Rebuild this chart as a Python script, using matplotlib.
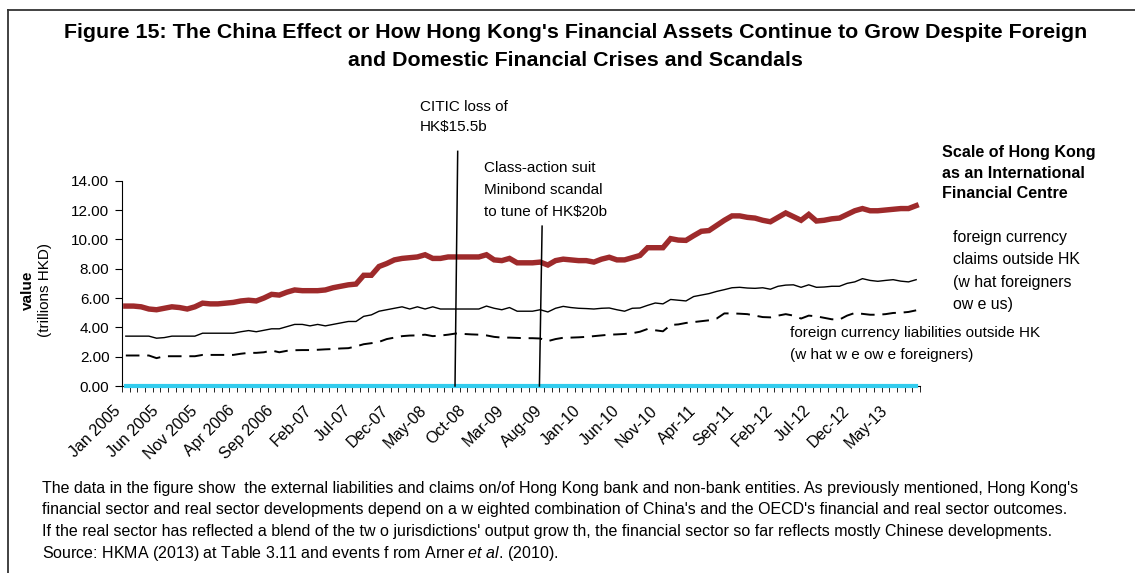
import numpy as np
import matplotlib
matplotlib.use("Agg")
from matplotlib import pyplot as plt
from matplotlib import transforms
from matplotlib.lines import Line2D

plt.rcParams['font.family'] = ['Liberation Sans', 'DejaVu Sans']
plt.rcParams['mathtext.fontset'] = 'custom'
plt.rcParams['mathtext.rm'] = 'Liberation Sans'
plt.rcParams['mathtext.it'] = 'Liberation Sans:italic'

# monthly, Jan 2005 .. Aug 2013 (trillions HKD)
tick_labels = ['Jan 2005', 'Jun 2005', 'Nov 2005', 'Apr 2006', 'Sep 2006', 'Feb-07',
               'Jul-07', 'Dec-07', 'May-08', 'Oct-08', 'Mar-09', 'Aug-09', 'Jan-10',
               'Jun-10', 'Nov-10', 'Apr-11', 'Sep-11', 'Feb-12', 'Jul-12', 'Dec-12',
               'May-13']
label_step = 5

total_assets = [5.45, 5.45, 5.4, 5.25, 5.2, 5.3, 5.4, 5.35, 5.25, 5.4,
                5.65, 5.6, 5.6, 5.65, 5.7, 5.8, 5.85, 5.8, 6.0, 6.25,
                6.2, 6.4, 6.55, 6.5, 6.5, 6.5, 6.55, 6.7, 6.8, 6.9,
                6.95, 7.55, 7.55, 8.15, 8.35, 8.6, 8.7, 8.75, 8.8, 8.95,
                8.7, 8.7, 8.8, 8.8, 8.8, 8.8, 8.8, 8.95, 8.6, 8.55,
                8.7, 8.4, 8.4, 8.4, 8.45, 8.25, 8.55, 8.65, 8.6, 8.55,
                8.55, 8.45, 8.65, 8.78, 8.6, 8.6, 8.75, 8.9, 9.43, 9.43,
                9.43, 10.05, 9.95, 9.93, 10.25, 10.55, 10.6, 10.95, 11.3, 11.6,
                11.6, 11.5, 11.45, 11.3, 11.2, 11.5, 11.8, 11.55, 11.3, 11.7,
                11.25, 11.3, 11.4, 11.45, 11.7, 11.95, 12.1, 11.95, 11.95, 12.0,
                12.05, 12.1, 12.1, 12.3]

claims = [3.4, 3.4, 3.4, 3.4, 3.26, 3.3, 3.4, 3.4, 3.4, 3.4,
          3.6, 3.6, 3.6, 3.6, 3.6, 3.7, 3.78, 3.7, 3.8, 3.9,
          3.9, 4.05, 4.2, 4.2, 4.1, 4.2, 4.1, 4.2, 4.3, 4.4,
          4.4, 4.75, 4.85, 5.1, 5.2, 5.3, 5.4, 5.25, 5.4, 5.25,
          5.4, 5.25, 5.25, 5.25, 5.25, 5.25, 5.25, 5.45, 5.3, 5.2,
          5.35, 5.1, 5.1, 5.1, 5.2, 5.05, 5.3, 5.43, 5.35, 5.3,
          5.28, 5.25, 5.3, 5.32, 5.2, 5.1, 5.3, 5.32, 5.5, 5.66,
          5.6, 5.9, 5.85, 5.8, 6.1, 6.2, 6.3, 6.45, 6.57, 6.7,
          6.73, 6.68, 6.66, 6.7, 6.6, 6.8, 6.88, 6.9, 6.73, 6.9,
          6.73, 6.75, 6.8, 6.8, 7.0, 7.1, 7.32, 7.2, 7.14, 7.2,
          7.25, 7.15, 7.1, 7.25]

liabilities = [2.08, 2.08, 2.08, 2.08, 1.9, 2.03, 2.03, 2.03, 2.03, 2.03,
               2.12, 2.12, 2.12, 2.12, 2.12, 2.2, 2.26, 2.26, 2.3, 2.42,
               2.3, 2.4, 2.44, 2.45, 2.45, 2.47, 2.5, 2.52, 2.56, 2.58,
               2.7, 2.85, 2.92, 3.01, 3.2, 3.3, 3.4, 3.44, 3.45, 3.5,
               3.4, 3.44, 3.5, 3.58, 3.55, 3.52, 3.5, 3.45, 3.35, 3.3,
               3.3, 3.28, 3.26, 3.26, 3.24, 3.06, 3.2, 3.29, 3.3, 3.32,
               3.35, 3.4, 3.45, 3.5, 3.52, 3.55, 3.6, 3.7, 3.89, 3.8,
               3.73, 4.16, 4.2, 4.3, 4.36, 4.42, 4.48, 4.6, 4.95, 4.95,
               4.93, 4.9, 4.8, 4.7, 4.68, 4.8, 4.9, 4.8, 4.6, 4.8,
               4.75, 4.65, 4.55, 4.53, 4.8, 4.98, 4.92, 4.86, 4.86, 4.9,
               4.98, 5.0, 5.05, 5.16]

zero_series = [0.0] * len(total_assets)

# event months (index into the monthly series)
citic_month = 43      # Aug 2008
minibond_month = 54   # Jul 2009

n = len(total_assets)
x = np.arange(n)

fig = plt.figure(figsize=(11.35, 5.73), dpi=100)
ax = fig.add_axes([122 / 1135, 1 - 386 / 573, 798 / 1135, 205.3 / 573])

ax.plot(x, zero_series, color='#33CCEE', lw=3, zorder=3, clip_on=False)
ax.plot(x, liabilities, color='black', lw=1.4, dashes=(7, 4), zorder=4)
ax.plot(x, claims, color='black', lw=1.0, zorder=4)
ax.plot(x, total_assets, color='#9E2A2B', lw=3.9, zorder=5, solid_joinstyle='miter')

ax.set_xlim(-0.5, n - 0.5)
ax.set_ylim(0, 14)
ax.set_yticks(np.arange(0, 14.1, 2))
ax.set_yticklabels(['%.2f' % v for v in np.arange(0, 14.1, 2)], fontsize=11)
ax.tick_params(axis='y', length=5, width=0.8, pad=4, colors='black')

ax.set_xticks(np.arange(n + 1) - 0.5, minor=True)
ax.set_xticks(np.arange(0, n, label_step)[:len(tick_labels)])
ax.set_xticklabels(tick_labels, fontsize=11.5, rotation=45, ha='right',
                   va='center', rotation_mode='anchor')
ax.tick_params(axis='x', which='major', length=0, pad=16)
ax.tick_params(axis='x', which='minor', length=4, width=0.6, direction='out')
offset = transforms.ScaledTranslation(-8 / 100, 0, fig.dpi_scale_trans)
for lab in ax.get_xticklabels():
    lab.set_transform(lab.get_transform() + offset)

for s in ['top', 'right']:
    ax.spines[s].set_visible(False)
ax.spines['left'].set_linewidth(0.8)
ax.spines['bottom'].set_linewidth(0.8)
ax.patch.set_alpha(0)

# event lines
ax.plot([citic_month - 0.1, citic_month + 0.25], [0, 16.0], color='black', lw=1.1,
        clip_on=False, zorder=6)
ax.plot([minibond_month - 0.1, minibond_month + 0.25], [0, 10.9], color='black', lw=1.1,
        clip_on=False, zorder=6)

fig.text(0.507, 1 - 32 / 573,
         "Figure 15: The China Effect or How Hong Kong's Financial Assets Continue to Grow Despite Foreign",
         ha='center', va='center', fontsize=15.4, fontweight='bold')
fig.text(0.507, 1 - 61 / 573, "and Domestic Financial Crises and Scandals",
         ha='center', va='center', fontsize=15.4, fontweight='bold')

fig.text(420 / 1135, 1 - 117 / 573, "CITIC loss of\nHK$15.5b", ha='left', va='center',
         fontsize=11, linespacing=1.5)
fig.text(484 / 1135, 1 - 190 / 573, "Class-action suit\nMinibond scandal\nto tune of HK$20b",
         ha='left', va='center', fontsize=11, linespacing=1.75)
fig.text(942 / 1135, 1 - 173 / 573, "Scale of Hong Kong\nas an International\nFinancial Centre",
         ha='left', va='center', fontsize=11.6, fontweight='bold', linespacing=1.45)
fig.text(953 / 1135, 1 - 271 / 573, "foreign currency\nclaims outside HK\n(w hat foreigners\now e us)",
         ha='left', va='center', fontsize=11.4, linespacing=1.6)
fig.text(790 / 1135, 1 - 344 / 573, "foreign currency liabilities outside HK\n(w hat w e ow e foreigners)",
         ha='left', va='center', fontsize=11, linespacing=1.65)

fig.text(28 / 1135, 1 - 290 / 573, "value", rotation=90, ha='center', va='center',
         fontsize=11, fontweight='bold')
fig.text(45 / 1135, 1 - 290 / 573, "(trillions HKD)", rotation=90, ha='center', va='center',
         fontsize=11)

caption = [
    "The data in the figure show  the external liabilities and claims on/of Hong Kong bank and non-bank entities. As previously mentioned, Hong Kong's",
    "financial sector and real sector developments depend on a w eighted combination of China's and the OECD's financial and real sector outcomes.",
    "If the real sector has reflected a blend of the tw o jurisdictions' output grow th, the financial sector so far reflects mostly Chinese developments.",
    r"Source: HKMA (2013) at Table 3.11 and events f rom Arner $\mathit{et\ al}$. (2010).",
]
for i, line in enumerate(caption):
    fig.text(42 / 1135, 1 - (488 + 21.8 * i) / 573, line, ha='left', va='center', fontsize=11.5)

# frame (top and left edges)
fig.add_artist(Line2D([8 / 1135, 1], [1 - 10 / 573, 1 - 10 / 573], color='#333333', lw=1.3))
fig.add_artist(Line2D([8 / 1135, 8 / 1135], [0, 1 - 10 / 573], color='#333333', lw=1.3))

fig.savefig('out.png', dpi=100)
